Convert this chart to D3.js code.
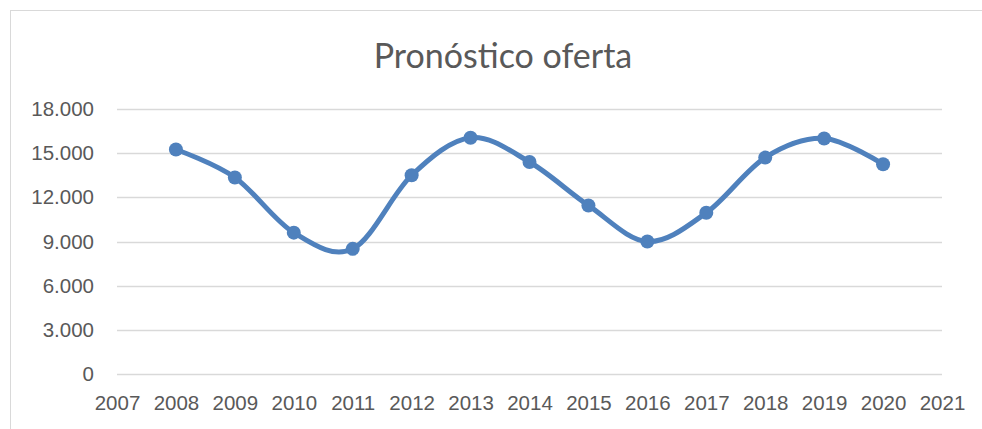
<!DOCTYPE html>
<html>
<head>
<meta charset="utf-8">
<script src="https://cdn.jsdelivr.net/npm/d3@7"></script>
<style>
  html, body { margin: 0; padding: 0; background: #fff; }
  svg { display: block; font-family: Lato, "Open Sans", sans-serif; }
</style>
</head>
<body>
<div id="chart"></div>
<script>
// Pronóstico oferta
const years = [2008, 2009, 2010, 2011, 2012, 2013, 2014, 2015, 2016, 2017, 2018, 2019, 2020];
const oferta = [15250, 13350, 9600, 8500, 13500, 16050, 14400, 11450, 9000, 10950, 14700, 16000, 14250];
const yTicks = [0, 3000, 6000, 9000, 12000, 15000, 18000];
const xTicks = [2007, 2008, 2009, 2010, 2011, 2012, 2013, 2014, 2015, 2016, 2017, 2018, 2019, 2020, 2021];
const title = "Pronóstico oferta";

const W = 982, H = 429;
const svg = d3.select("#chart").append("svg").attr("width", W).attr("height", H);

// marco del área del gráfico
svg.append("rect")
  .attr("x", 10.5).attr("y", 10.5).attr("width", W + 20).attr("height", H + 20)
  .attr("fill", "#fff").attr("stroke", "#d9d9d9").attr("stroke-width", 1);

const x = d3.scaleLinear().domain([2007, 2021]).range([117, 942]);
const y = d3.scaleLinear().domain([0, 18000]).range([374, 109]);
const fmt = v => v === 0 ? "0" : d3.format(",")(v).replace(/,/g, ".");

// título
svg.append("text")
  .attr("x", 503).attr("y", 68)
  .attr("text-anchor", "middle")
  .attr("font-size", 34).attr("fill", "#595959")
  .text(title);

// líneas de cuadrícula
svg.append("g").selectAll("line")
  .data(yTicks).join("line")
  .attr("x1", x(2007)).attr("x2", x(2021))
  .attr("y1", d => Math.round(y(d)) + 0.5).attr("y2", d => Math.round(y(d)) + 0.5)
  .attr("stroke", "#d9d9d9").attr("stroke-width", 1.3);

// eje Y
const yAxis = svg.append("g")
  .attr("transform", "translate(94,0)")
  .call(d3.axisLeft(y).tickValues(yTicks).tickFormat(fmt).tickSize(0).tickPadding(0));
yAxis.select(".domain").remove();
yAxis.selectAll("text").attr("font-size", 20.5).attr("fill", "#595959").attr("font-family", null);

// eje X
const xAxis = svg.append("g")
  .attr("transform", "translate(0,392)")
  .call(d3.axisBottom(x).tickValues(xTicks).tickFormat(d3.format("d")).tickSize(0).tickPadding(3));
xAxis.select(".domain").remove();
xAxis.selectAll("text").attr("font-size", 20.5).attr("fill", "#595959").attr("font-family", null);

// serie suavizada
const pts = years.map((yr, i) => [yr, oferta[i]]);
const line = d3.line()
  .x(d => x(d[0])).y(d => y(d[1]))
  .curve(d3.curveCatmullRom.alpha(0));

svg.append("path")
  .datum(pts)
  .attr("d", line)
  .attr("fill", "none")
  .attr("stroke", "#4f81bd").attr("stroke-width", 5)
  .attr("stroke-linecap", "round").attr("stroke-linejoin", "round");

svg.append("g").selectAll("circle")
  .data(pts).join("circle")
  .attr("cx", d => x(d[0])).attr("cy", d => y(d[1]))
  .attr("r", 7)
  .attr("fill", "#4f81bd");
</script>
</body>
</html>
